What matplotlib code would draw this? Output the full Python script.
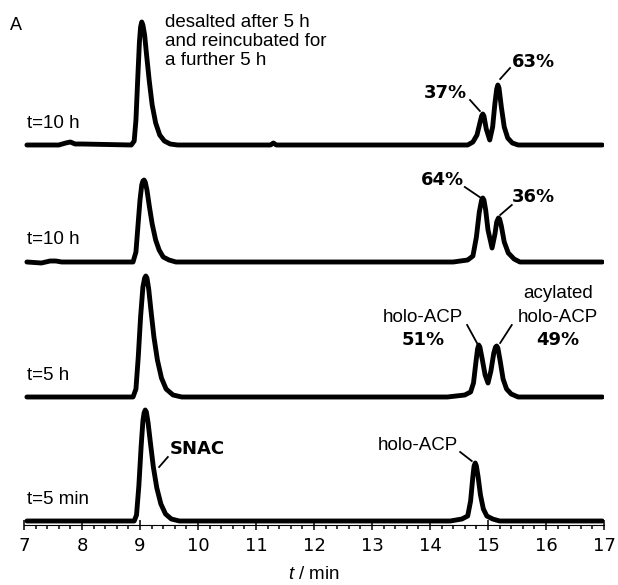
import matplotlib
matplotlib.use("Agg")
import matplotlib.pyplot as plt
from matplotlib.ticker import MultipleLocator

# retention time (min) and detector signal (arb. units)
t_desalted = [7.05, 7.6, 7.72, 7.8, 7.88, 8.0, 8.85, 8.9, 8.93, 8.96, 8.99, 9.01, 9.03, 9.05,
              9.08, 9.11, 9.16, 9.21, 9.27, 9.34, 9.42, 9.52, 9.65, 11.25, 11.3, 11.35, 14.65,
              14.74, 14.81, 14.86, 14.89, 14.91, 14.93, 14.97, 15.03, 15.08, 15.12, 15.15,
              15.17, 15.19, 15.23, 15.28, 15.34, 15.42, 15.52, 16.97]
y_desalted = [0, 0, 2, 3, 1, 1, 0, 4, 25, 65, 103, 118, 123, 120,
              110, 92, 64, 40, 22, 10, 4, 1, 0, 0, 2, 0, 0,
              3, 10, 22, 29, 31, 29, 16, 5, 18, 42, 56, 60, 57, 38, 18, 7, 2, 0, 0]

t_10h = [7.05, 7.3, 7.45, 7.55, 7.65, 8.88, 8.93, 8.97, 9.0, 9.03, 9.05, 9.07, 9.09, 9.12,
         9.16, 9.21, 9.27, 9.33, 9.4, 9.5, 9.62, 14.4, 14.65, 14.74, 14.8, 14.85, 14.89,
         14.91, 14.93, 14.96, 15.0, 15.07, 15.12, 15.15, 15.18, 15.2, 15.23, 15.28, 15.35,
         15.45, 15.55, 16.97]
y_10h = [0, -1, 1, 1, 0, 0, 10, 40, 62, 77, 81, 82, 80, 72,
         56, 38, 22, 12, 5, 2, 0, 0, 2, 6, 25, 50, 62, 64, 62, 52, 32, 14, 28, 40, 44, 43,
         36, 20, 9, 3, 0, 0]

t_5h = [7.05, 7.6, 8.88, 8.93, 8.97, 9.01, 9.05, 9.08, 9.1, 9.12, 9.15, 9.19, 9.24, 9.3,
        9.37, 9.45, 9.57, 9.72, 14.3, 14.6, 14.7, 14.75, 14.79, 14.82, 14.84, 14.86, 14.9,
        14.95, 15.0, 15.05, 15.1, 15.13, 15.15, 15.17, 15.21, 15.26, 15.32, 15.4, 15.52, 16.97]
y_5h = [0, 0, 0, 8, 40, 80, 110, 119, 121, 119, 108, 86, 60, 37,
        19, 8, 2, 0, 0, 2, 5, 14, 34, 48, 52, 50, 38, 22, 14, 26, 44, 50, 51, 49, 36, 18,
        8, 3, 0, 0]

t_5min = [7.05, 8.9, 8.94, 8.98, 9.02, 9.05, 9.07, 9.09, 9.11, 9.14, 9.18, 9.23, 9.29,
          9.36, 9.44, 9.54, 9.68, 14.35, 14.55, 14.65, 14.7, 14.74, 14.76, 14.78, 14.8,
          14.83, 14.87, 14.92, 14.98, 15.08, 15.2, 16.97]
y_5min = [0, 0, 6, 35, 75, 100, 108, 111, 109, 98, 78, 54, 33, 17,
          7, 2, 0, 0, 2, 5, 20, 45, 55, 58, 55, 44, 26, 12, 5, 2, 0, 0]

traces = [(t_desalted, y_desalted), (t_10h, y_10h), (t_5h, y_5h), (t_5min, y_5min)]
trace_labels = ["t=10 h", "t=10 h", "t=5 h", "t=5 min"]
offsets = [380, 263, 128, 4]

plt.rcParams["mathtext.fontset"] = "custom"
plt.rcParams["mathtext.it"] = "Liberation Sans:italic"
plt.rcParams["mathtext.rm"] = "Liberation Sans"

SANS = "Liberation Sans"
BOLD = dict(family="DejaVu Sans", fontweight="bold", fontsize=13)
REG = dict(family=SANS, fontsize=13.5)

fig = plt.figure(figsize=(6.18, 5.85), dpi=100)
ax = fig.add_axes([24 / 618, 60 / 585, 580 / 618, 525 / 585])

for (t, y), off, lab in zip(traces, offsets, trace_labels):
    ax.plot(t, [v + off for v in y], color="black", lw=3.5,
            solid_joinstyle="round", solid_capstyle="round")
    ax.text(7.05, off + 22, lab, ha="left", va="center", **REG)

ax.set_xlim(7, 17)
ax.set_ylim(0, 525)
for side in ("left", "right", "top"):
    ax.spines[side].set_visible(False)
ax.spines["bottom"].set_linewidth(0.8)
ax.set_yticks([])
ax.xaxis.set_major_locator(MultipleLocator(1))
ax.xaxis.set_minor_locator(MultipleLocator(0.2))
ax.tick_params(axis="x", which="major", direction="inout", length=7, width=1.1,
               pad=5, labelsize=13)
ax.tick_params(axis="x", which="minor", direction="out", length=3, width=1.1)
ax.set_xlabel(r"$t$ / min", fontsize=13.5, family=SANS, labelpad=8)

fig.text(10 / 618, 1 - 26 / 585, "A", family=SANS, fontsize=13, va="center")

ax.text(9.43, 511, "desalted after 5 h\nand reincubated for\na further 5 h",
        ha="left", va="top", linespacing=1.15, **REG)


# short leader lines from a label to its peak
def leader(p0, p1):
    ax.plot([p0[0], p1[0]], [p0[1], p1[1]], color="black", lw=1.3)


ax.text(14.26, 432, "37%", ha="center", va="center", **BOLD)
leader((14.69, 425), (14.86, 414))
ax.text(15.78, 463, "63%", ha="center", va="center", **BOLD)
leader((15.38, 457), (15.21, 446))

ax.text(14.21, 345, "64%", ha="center", va="center", **BOLD)
leader((14.6, 338), (14.88, 327))
ax.text(15.78, 328, "36%", ha="center", va="center", **BOLD)
leader((15.41, 320), (15.21, 310))

ax.text(13.88, 208, "holo-ACP", ha="center", va="center", **REG)
ax.text(13.88, 185, "51%", ha="center", va="center", **BOLD)
ax.text(16.21, 232, "acylated", ha="center", va="center", **REG)
ax.text(16.21, 208, "holo-ACP", ha="center", va="center", **REG)
ax.text(16.21, 185, "49%", ha="center", va="center", **BOLD)
leader((14.64, 200), (14.81, 182))
leader((15.41, 200), (15.21, 182))

ax.text(9.52, 76, "SNAC", ha="left", va="center", **BOLD)
leader((9.33, 58), (9.48, 68))
ax.text(13.79, 79, "holo-ACP", ha="center", va="center", **REG)
leader((14.52, 73), (14.72, 64))

fig.savefig("out.png", dpi=100)
